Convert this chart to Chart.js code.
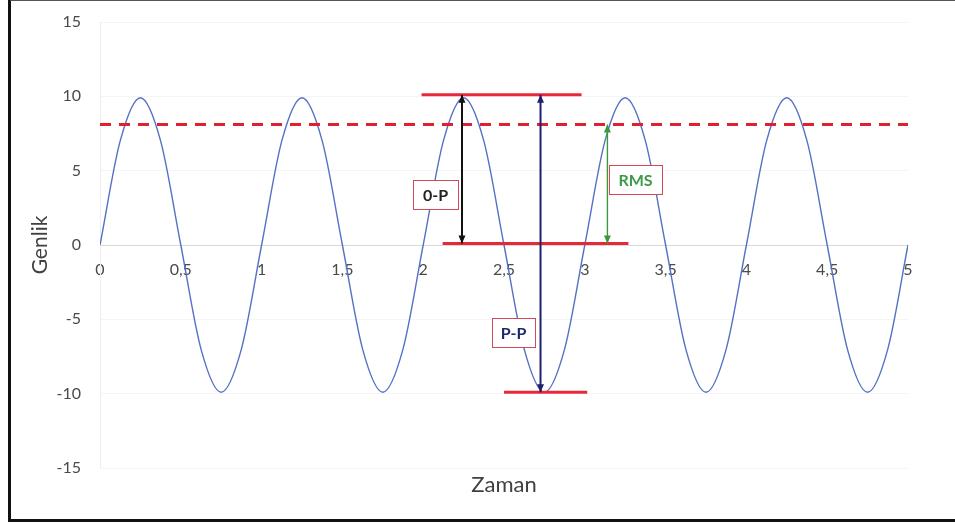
<!DOCTYPE html>
<html><head><meta charset="utf-8">
<script src="https://cdn.jsdelivr.net/npm/chart.js@4/dist/chart.umd.min.js"></script>
<style>
html,body{margin:0;padding:0;background:#fff;overflow:hidden;}
#wrap{position:relative;width:955px;height:524px;}
#frame{position:absolute;left:8px;top:-1px;width:1000px;height:518px;border-left:3px solid #111;border-bottom:3px solid #111;border-top:2px solid #555;pointer-events:none;}
canvas{position:absolute;left:0;top:0;}
</style></head>
<body><div id="wrap"><canvas id="c" width="955" height="524"></canvas><div id="frame"></div></div>
<script>
// ---- data ----
const xValues = [0,0.125,0.25,0.375,0.5,0.625,0.75,0.875,1,1.125,1.25,1.375,1.5,1.625,1.75,1.875,2,2.125,2.25,2.375,2.5,2.625,2.75,2.875,3,3.125,3.25,3.375,3.5,3.625,3.75,3.875,4,4.125,4.25,4.375,4.5,4.625,4.75,4.875,5];
const yValues = [0,7,9.9,7,0,-7,-9.9,-7, 0,7,9.9,7,0,-7,-9.9,-7, 0,7,9.9,7,0,-7,-9.9,-7, 0,7,9.9,7,0,-7,-9.9,-7, 0,7,9.9,7,0,-7,-9.9,-7, 0];
const xTickLabels = ['0','0,5','1','1,5','2','2,5','3','3,5','4','4,5','5'];
const yTickLabels = ['-15','-10','-5','0','5','10','15'];
const rmsLevel = 8.1;
const barLevels = [10.1, 0.1, -9.9];
const barFrom   = [1.99, 2.12, 2.5];
const barTo     = [2.98, 3.27, 3.015];
const arrowX    = [2.24, 2.726, 3.14];
const arrowFrom = [0.1, -9.9, 0.1];
const arrowTo   = [10.1, 10.1, 8.1];
const arrowColors = ['#111111', '#1f1f6e', '#3a9a3a'];
const boxTexts = ['0-P', 'P-P', 'RMS'];
const boxX = [2.076, 2.559, 3.314];
const boxY = [3.39, -5.9, 4.4];
const boxColors = ['#222222', '#1f2a6e', '#3c9a48'];
const boxW = [45, 43, 53];

const FONT = 'Lato, "Open Sans", sans-serif';

const datasets = [];
arrowX.forEach((x, i) => {
  datasets.push({
    data: [{x: x, y: arrowFrom[i]}, {x: x, y: arrowTo[i]}],
    borderColor: arrowColors[i], borderWidth: i === 2 ? 1.4 : 2,
    pointRadius: 0, isArrow: true, tension: 0
  });
});
barLevels.forEach((y, i) => {
  datasets.push({
    data: [{x: barFrom[i], y: y}, {x: barTo[i], y: y}],
    borderColor: '#e8283a', borderWidth: 3, pointRadius: 0, tension: 0
  });
});
datasets.push({
  data: [{x: 0, y: rmsLevel}, {x: 5, y: rmsLevel}],
  borderColor: '#e0202e', borderWidth: 3, borderDash: [11, 8], pointRadius: 0, tension: 0
});
datasets.push({
  data: xValues.map((x, i) => ({x: x, y: yValues[i]})),
  borderColor: '#5571c2', borderWidth: 1.4, pointRadius: 0,
  cubicInterpolationMode: 'monotone'
});

const overlay = {
  id: 'overlay',
  afterDatasetsDraw(chart) {
    const ctx = chart.ctx;
    chart.data.datasets.forEach((ds, i) => {
      if (!ds.isArrow) return;
      const pts = chart.getDatasetMeta(i).data;
      const a = pts[0], b = pts[1];
      ctx.save();
      ctx.fillStyle = ds.borderColor;
      [[a, 1], [b, -1]].forEach(([p, dir]) => {
        const tipY = p.y;
        const baseY = p.y - dir * 8;
        ctx.beginPath();
        ctx.moveTo(p.x, tipY);
        ctx.lineTo(p.x - 3.5, baseY);
        ctx.lineTo(p.x + 3.5, baseY);
        ctx.closePath();
        ctx.fill();
      });
      ctx.restore();
    });
  },
  afterDraw(chart) {
    const ctx = chart.ctx;
    const sx = chart.scales.x, sy = chart.scales.y;
    ctx.save();
    boxTexts.forEach((t, i) => {
      const cx = sx.getPixelForValue(boxX[i]);
      const cy = sy.getPixelForValue(boxY[i]);
      const w = boxW[i], h = 29;
      ctx.fillStyle = '#ffffff';
      ctx.fillRect(cx - w / 2, cy - h / 2, w, h);
      ctx.strokeStyle = '#d24a58';
      ctx.lineWidth = 1;
      ctx.strokeRect(Math.round(cx - w / 2) + 0.5, Math.round(cy - h / 2) + 0.5, w, h);
      ctx.fillStyle = boxColors[i];
      ctx.font = 'bold 16px ' + FONT;
      ctx.textAlign = 'center';
      ctx.textBaseline = 'middle';
      ctx.fillText(t, cx, cy + 1);
    });
    ctx.fillStyle = '#404040';
    ctx.font = '22px ' + FONT;
    ctx.textAlign = 'center';
    ctx.textBaseline = 'middle';
    ctx.fillText('Zaman', (sx.left + sx.right) / 2, 485);
    ctx.save();
    ctx.translate(40, sy.getPixelForValue(0));
    ctx.rotate(-Math.PI / 2);
    ctx.font = '21px ' + FONT;
    ctx.fillText('Genlik', 0, 0);
    ctx.restore();
    ctx.restore();
  }
};

new Chart(document.getElementById('c'), {
  type: 'line',
  data: {datasets: datasets},
  options: {
    responsive: false,
    devicePixelRatio: 1,
    animation: false,
    layout: {padding: {top: 22, bottom: 56, left: 0, right: 47}},
    plugins: {legend: {display: false}, tooltip: {enabled: false}},
    scales: {
      x: {
        type: 'linear', position: {y: 0}, min: 0, max: 5,
        afterFit: (s) => { s.height = 0; },
        grid: {display: false, drawTicks: false, tickLength: 0},
        border: {display: true, color: '#d9d9d9', width: 1},
        ticks: {
          stepSize: 0.5, autoSkip: false, maxRotation: 0, padding: 15,
          color: '#4a4a4a', font: {family: FONT, size: 16},
          callback: (v) => xTickLabels[Math.round(v / 0.5)]
        }
      },
      y: {
        type: 'linear', min: -15, max: 15,
        afterFit: (s) => { s.width = 100; },
        grid: {
          drawTicks: true, tickLength: 16, tickColor: 'rgba(0,0,0,0)',
          color: (c) => (c.tick && c.tick.value === 0) ? '#dcdcdc' : '#f5f5f5'
        },
        border: {display: true, color: '#eeeeee'},
        ticks: {
          stepSize: 5, padding: 3, color: '#4a4a4a',
          font: {family: FONT, size: 16},
          callback: (v) => yTickLabels[Math.round((v + 15) / 5)]
        }
      }
    }
  },
  plugins: [overlay]
});
</script>
</body></html>
